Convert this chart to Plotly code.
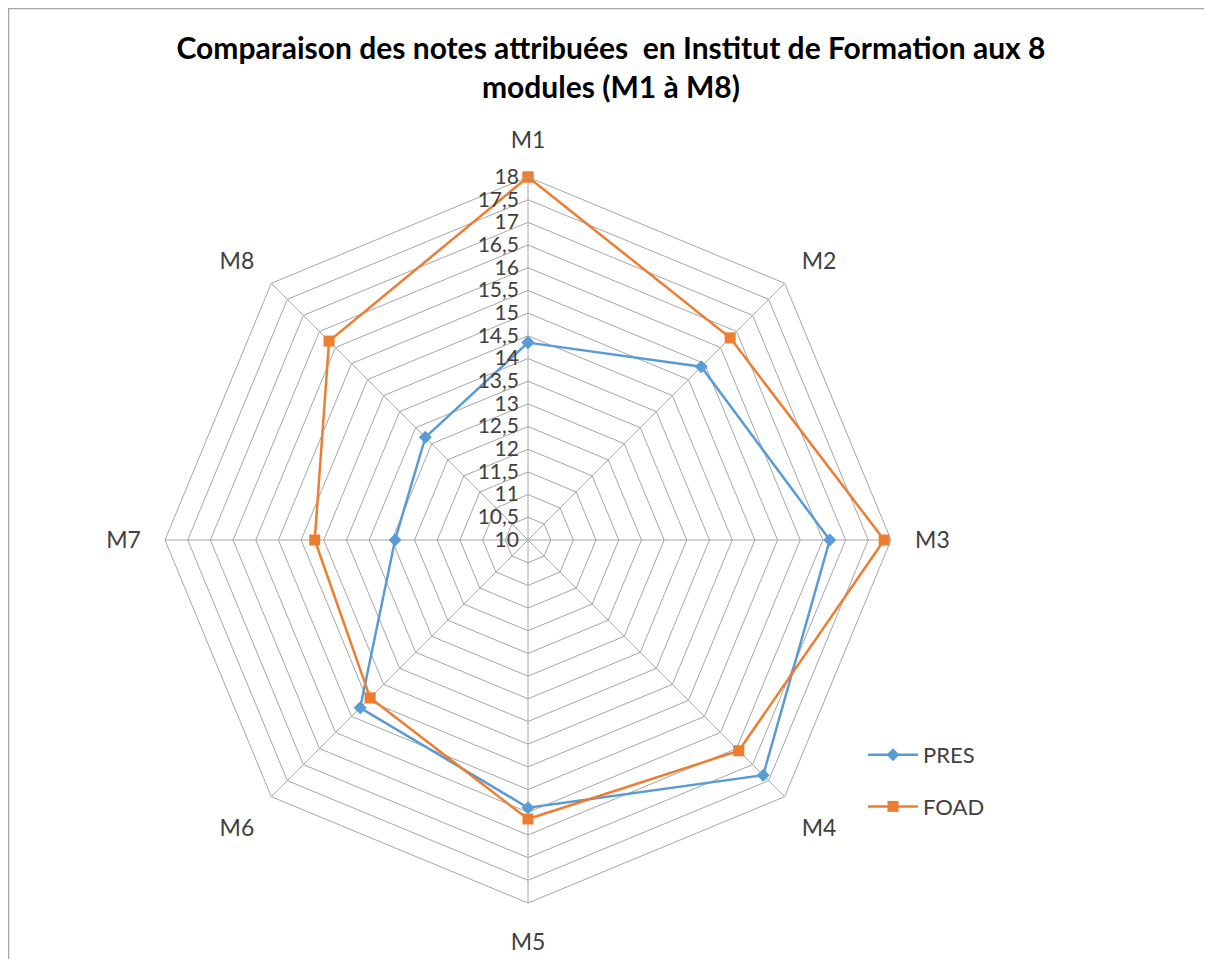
import plotly.graph_objects as go

categories = ["M1", "M2", "M3", "M4", "M5", "M6", "M7", "M8"]
pres = [14.35, 15.4, 16.65, 17.33, 15.9, 15.23, 12.93, 13.2]
foad = [18.0, 16.3, 17.85, 16.57, 16.15, 14.92, 14.7, 16.2]
tick_vals = [10 + 0.5 * i for i in range(17)]
tick_text = [("%g" % v).replace(".", ",") + "\u00a0" for v in tick_vals]

FONT = "Lato, Open Sans, sans-serif"

fig = go.Figure()
fig.add_trace(go.Scatterpolar(
    r=pres + [pres[0]], theta=categories + [categories[0]], name="PRES",
    mode="lines+markers", legendgroup="a",
    line=dict(color="#5b9bd5", width=2.5),
    marker=dict(symbol="diamond", size=10, color="#5b9bd5"),
))
fig.add_trace(go.Scatterpolar(
    r=foad + [foad[0]], theta=categories + [categories[0]], name="FOAD",
    mode="lines+markers", legendgroup="b",
    line=dict(color="#ed7d31", width=2.5),
    marker=dict(symbol="square", size=11, color="#ed7d31"),
))

OFF = 8  # page body margin
W, H = 1212 - OFF, 959 - OFF
cx, cy, R = 528 - OFF, 540 - OFF, 363
fig.update_layout(
    width=W, height=H,
    margin=dict(l=0, r=0, t=0, b=0),
    paper_bgcolor="white", plot_bgcolor="white",
    font=dict(family=FONT, size=21, color="#404040"),
    title=dict(
        text="<b>Comparaison des notes attribuées  en Institut de Formation aux 8<br>modules (M1 à M8)</b>",
        x=(611 - OFF) / W, xanchor="center", y=1 - (59 - OFF) / H, yanchor="middle",
        font=dict(family=FONT, size=30, color="#000000"),
    ),
    polar=dict(
        domain=dict(x=[(cx - R) / W, (cx + R) / W], y=[(H - cy - R) / H, (H - cy + R) / H]),
        bgcolor="white",
        gridshape="linear",
        radialaxis=dict(
            range=[10, 18], tickvals=tick_vals, ticktext=tick_text,
            angle=90, tickangle=90, side="counterclockwise",
            showline=False, gridcolor="#a6a6a6", gridwidth=1,
            ticks="", tickfont=dict(family=FONT, size=21, color="#404040"),
        ),
        angularaxis=dict(
            rotation=90, direction="clockwise",
            linecolor="#a6a6a6", linewidth=1, gridcolor="#a6a6a6", gridwidth=1,
            ticks="outside", ticklen=19, tickcolor="rgba(0,0,0,0)",
            tickfont=dict(family=FONT, size=23, color="#404040"),
        ),
    ),
    legend=dict(
        x=(863 - OFF) / W, y=1 - (734 - OFF) / H, xanchor="left", yanchor="top",
        font=dict(family=FONT, size=22, color="#404040"),
        bgcolor="rgba(0,0,0,0)", tracegroupgap=20, itemwidth=50,
    ),
    showlegend=True,
)
fig.add_shape(type="rect", xref="paper", yref="paper",
              x0=0.5 / W, x1=(1207 - OFF) / W, y0=-0.1, y1=1 - 0.5 / H,
              line=dict(color="#a6a6a6", width=1.5))

fig.write_html("out.html")
